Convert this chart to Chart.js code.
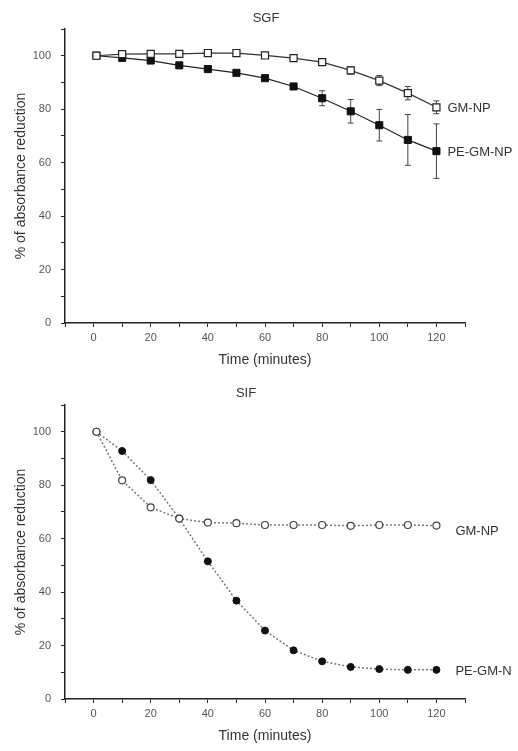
<!DOCTYPE html>
<html>
<head>
<meta charset="utf-8">
<script src="https://cdn.jsdelivr.net/npm/chart.js@4.4.1/dist/chart.umd.min.js"></script>
<style>
  html, body { margin: 0; padding: 0; background: #fff; }
  canvas { display: block; }
</style>
</head>
<body>
<canvas id="sgfChart" width="518" height="375"></canvas>
<canvas id="sifChart" width="518" height="376"></canvas>
<script>
// time points (minutes)
const times = [1, 10, 20, 30, 40, 50, 60, 70, 80, 90, 100, 110, 120];

// SGF panel
const sgfGm = [100, 100.6, 100.7, 100.7, 101, 101, 100.1, 99.1, 97.6, 94.5, 90.7, 86, 80.7];
const sgfGmErr = [0, 0.5, 0.5, 0.5, 0.7, 0.8, 0.6, 0.8, 1.0, 1.4, 1.9, 2.5, 2.4];
const sgfPe = [100, 99.2, 98.2, 96.4, 95, 93.6, 91.6, 88.5, 84.1, 79.2, 74, 68.5, 64.3];
const sgfPeErr = [0, 0.3, 0.3, 0.4, 0.4, 0.5, 0.6, 0.7, 2.8, 4.4, 5.9, 9.5, 10.2];

// SIF panel
const sifGm = [100, 81.8, 71.7, 67.5, 66, 65.8, 65.1, 65.1, 65.1, 64.8, 65.1, 65.1, 64.9];
const sifPe = [100, 92.8, 81.9, 67.5, 51.5, 36.8, 25.6, 18.2, 14.1, 12, 11.2, 10.9, 10.9];

const yTicks = [0, 20, 40, 60, 80, 100];
const xTicks = [0, 20, 40, 60, 80, 100, 120];

Chart.defaults.font.family = "'Liberation Sans', Arial, sans-serif";
Chart.defaults.color = '#555';

const toPoints = vals => times.map((t, i) => ({ x: t, y: vals[i] }));

// error bars drawn under the markers
const errorBars = {
  id: 'errorBars',
  beforeDatasetsDraw(chart, args, opts) {
    if (!opts.errs) return;
    const { ctx, scales: { x, y } } = chart;
    ctx.save();
    ctx.strokeStyle = '#444';
    ctx.lineWidth = 1;
    opts.errs.forEach((errs, di) => {
      const vals = chart.data.datasets[di].data;
      errs.forEach((e, i) => {
        if (!e) return;
        const px = x.getPixelForValue(vals[i].x);
        const top = y.getPixelForValue(vals[i].y + e);
        const bot = y.getPixelForValue(vals[i].y - e);
        ctx.beginPath();
        ctx.moveTo(px, top); ctx.lineTo(px, bot);
        ctx.moveTo(px - 3, top); ctx.lineTo(px + 3, top);
        ctx.moveTo(px - 3, bot); ctx.lineTo(px + 3, bot);
        ctx.stroke();
      });
    });
    ctx.restore();
  }
};

// panel title and end-of-line series labels
const panelText = {
  id: 'panelText',
  afterDraw(chart, args, opts) {
    const { ctx, chartArea } = chart;
    ctx.save();
    ctx.fillStyle = '#333';
    ctx.font = "13px 'Liberation Sans', Arial, sans-serif";
    ctx.textAlign = 'center';
    ctx.textBaseline = 'middle';
    ctx.fillText(opts.title, (chartArea.left + chartArea.right) / 2 + opts.titleDx, 18);
    ctx.textAlign = 'left';
    chart.data.datasets.forEach((ds, i) => {
      const pts = chart.getDatasetMeta(i).data;
      const last = pts[pts.length - 1];
      ctx.fillText(ds.label, last.x + opts.labelDx[i], last.y + opts.labelDy[i]);
    });
    ctx.restore();
  }
};

function axes() {
  return {
    x: {
      type: 'linear', min: -10, max: 130,
      afterFit: s => { s.height = 52; },
      afterBuildTicks: s => { s.ticks = [-10, 0, 10, 20, 30, 40, 50, 60, 70, 80, 90, 100, 110, 120, 130].map(v => ({ value: v })); },
      ticks: { callback: v => xTicks.includes(v) ? v : '', font: { size: 11 }, color: '#555', padding: 4, maxRotation: 0, autoSkip: false },
      grid: { drawOnChartArea: false, tickLength: 4, tickColor: '#222' },
      border: { color: '#222', width: 1.5 },
      title: { display: true, text: 'Time (minutes)', font: { size: 14 }, color: '#333', padding: { bottom: 6 } }
    },
    y: {
      min: 0, max: 110,
      afterFit: s => { s.width = 65; },
      afterBuildTicks: s => { s.ticks = [0, 10, 20, 30, 40, 50, 60, 70, 80, 90, 100, 110].map(v => ({ value: v })); },
      ticks: { callback: v => yTicks.includes(v) ? v : '', font: { size: 11 }, color: '#555', padding: 10, autoSkip: false },
      grid: { drawOnChartArea: false, tickLength: 4, tickColor: '#222' },
      border: { color: '#222', width: 1.5 },
      title: { display: true, text: '% of absorbance reduction', font: { size: 14 }, color: '#333', padding: { top: 13 } }
    }
  };
}

new Chart(document.getElementById('sgfChart'), {
  type: 'line',
  data: {
    datasets: [
      { label: 'GM-NP', data: toPoints(sgfGm), borderColor: '#333', borderWidth: 1.2,
        pointStyle: 'rect', pointRadius: 5, pointBackgroundColor: '#fff', pointBorderColor: '#222', pointBorderWidth: 1.2 },
      { label: 'PE-GM-NP', data: toPoints(sgfPe), borderColor: '#222', borderWidth: 1.2,
        pointStyle: 'rect', pointRadius: 5, pointBackgroundColor: '#111', pointBorderColor: '#111', pointBorderWidth: 1 }
    ]
  },
  options: {
    responsive: false,
    animation: false,
    layout: { padding: { top: 29, right: 53, left: 0, bottom: 0 } },
    plugins: {
      legend: { display: false },
      tooltip: { enabled: false },
      errorBars: { errs: [sgfGmErr, sgfPeErr] },
      panelText: { title: 'SGF', titleDx: 1, labelDx: [11, 11], labelDy: [1, 1] }
    },
    scales: axes()
  },
  plugins: [errorBars, panelText]
});

new Chart(document.getElementById('sifChart'), {
  type: 'line',
  data: {
    datasets: [
      { label: 'GM-NP', data: toPoints(sifGm), borderColor: '#777', borderWidth: 1.5, borderDash: [2, 2],
        pointStyle: 'circle', pointRadius: 3.5, pointBackgroundColor: '#fff', pointBorderColor: '#444', pointBorderWidth: 1.2 },
      { label: 'PE-GM-N', data: toPoints(sifPe), borderColor: '#777', borderWidth: 1.5, borderDash: [2, 2],
        pointStyle: 'circle', pointRadius: 3.5, pointBackgroundColor: '#111', pointBorderColor: '#111', pointBorderWidth: 1 }
    ]
  },
  options: {
    responsive: false,
    animation: false,
    layout: { padding: { top: 30, right: 53, left: 0, bottom: 0 } },
    plugins: {
      legend: { display: false },
      tooltip: { enabled: false },
      panelText: { title: 'SIF', titleDx: -19, labelDx: [19, 19], labelDy: [6, 2] }
    },
    scales: axes()
  },
  plugins: [panelText]
});
</script>
</body>
</html>
